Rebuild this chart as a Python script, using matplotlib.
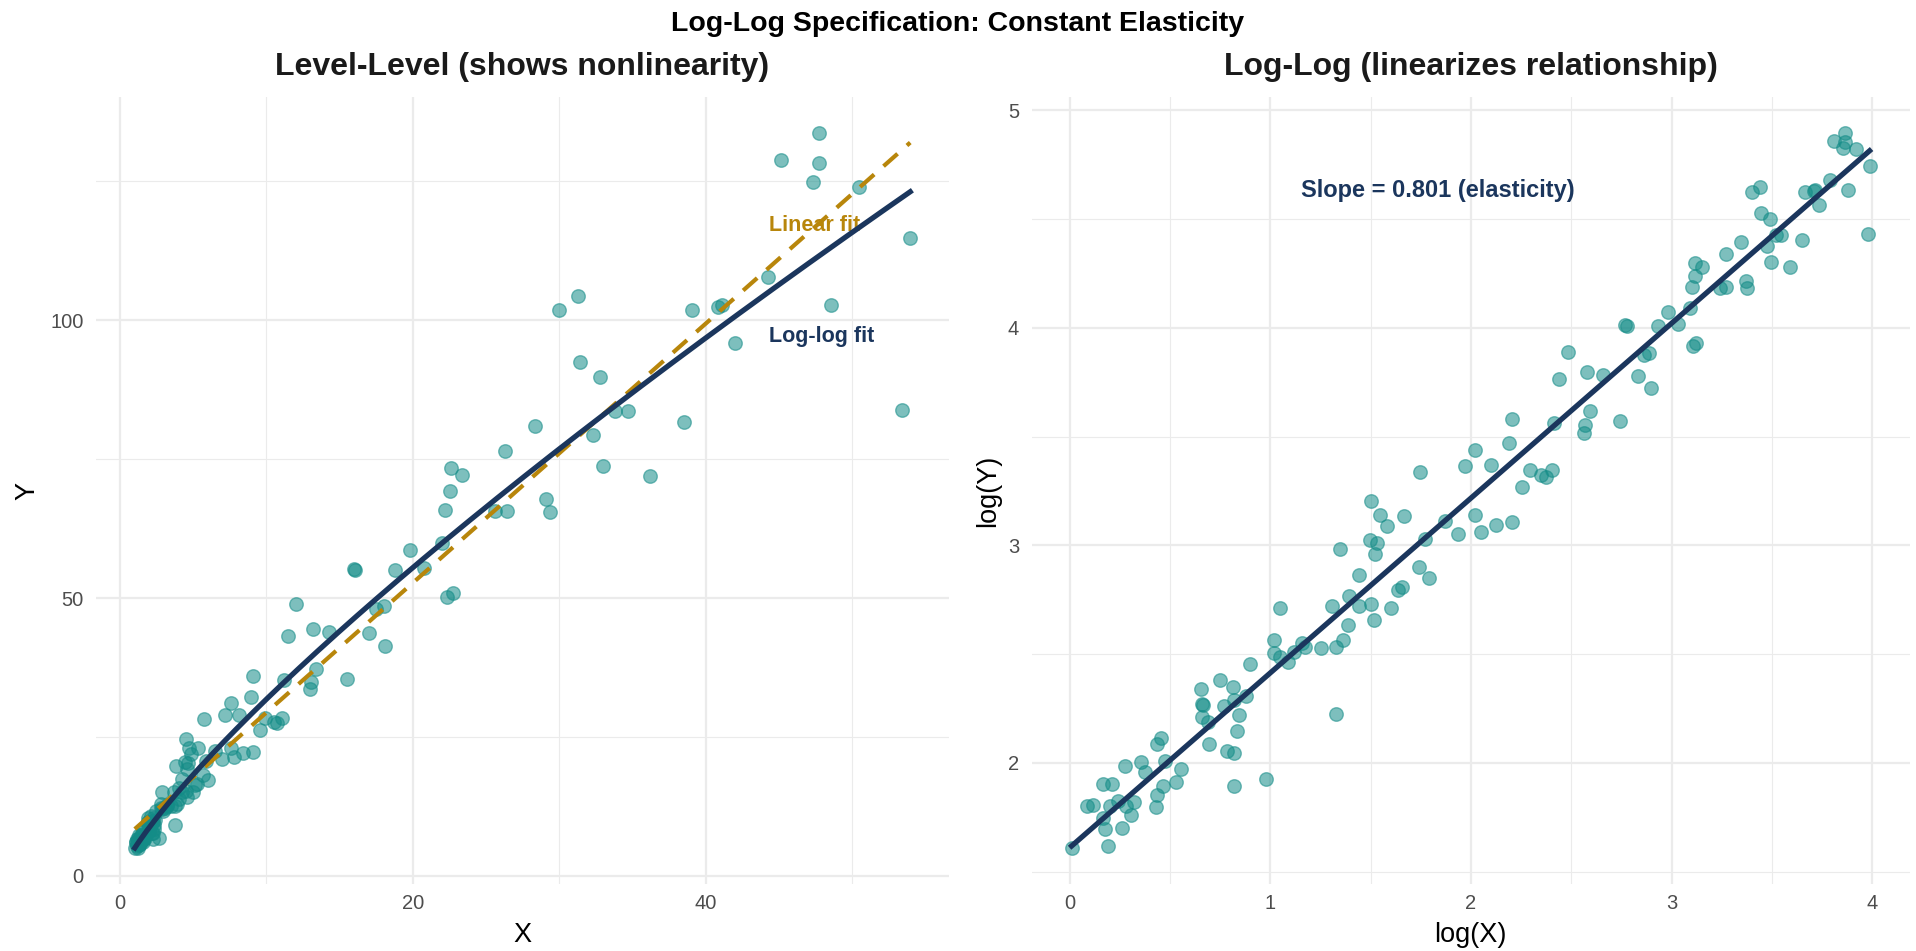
import numpy as np
import matplotlib
matplotlib.use('Agg')
import matplotlib.pyplot as plt
from matplotlib.ticker import MultipleLocator

plt.rcParams['font.family'] = ['Liberation Sans', 'DejaVu Sans']

# log(X), log(Y); the left panel is the same data in levels
log_x = [0.008, 0.19, 0.175, 0.26, 0.165, 0.305, 0.085, 0.116, 0.198, 0.239,
         0.28, 0.318, 0.431, 0.433, 0.462, 0.527, 0.167, 0.207, 0.275, 0.354,
         0.373, 0.472, 0.553, 0.432, 0.455, 0.692, 0.781, 0.816, 0.82, 0.976,
         0.833, 0.842, 0.766, 0.819, 0.88, 0.657, 0.665, 0.658, 0.687, 0.655,
         0.749, 0.812, 0.898, 1.329, 1.018, 1.018, 1.049, 1.088, 1.116, 1.155,
         1.17, 1.25, 1.326, 1.36, 1.046, 1.387, 1.309, 1.393, 1.443, 1.502,
         1.516, 1.6, 1.443, 1.348, 1.497, 1.533, 1.522, 1.502, 1.547, 1.583,
         1.667, 1.634, 1.656, 1.74, 1.793, 1.773, 1.871, 1.745, 1.936, 2.022,
         2.05, 2.126, 2.204, 1.969, 2.022, 2.098, 2.19, 2.204, 2.255, 2.294,
         2.35, 2.372, 2.406, 2.414, 2.562, 2.568, 2.593, 2.741, 2.439, 2.484,
         2.577, 2.657, 2.834, 2.896, 2.861, 2.89, 2.77, 2.776, 2.932, 3.032,
         2.985, 3.09, 3.107, 3.124, 3.1, 3.116, 3.118, 3.15, 3.242, 3.273,
         3.37, 3.379, 3.27, 3.345, 3.446, 3.49, 3.52, 3.547, 3.474, 3.496,
         3.589, 3.65, 3.4, 3.443, 3.664, 3.71, 3.716, 3.737, 3.79, 3.882,
         3.81, 3.866, 3.866, 3.857, 3.921, 3.988, 3.978]
log_y = [1.608, 1.62, 1.696, 1.702, 1.749, 1.76, 1.80, 1.805, 1.804, 1.827,
         1.804, 1.821, 1.797, 1.854, 1.892, 1.911, 1.903, 1.903, 1.988, 2.003,
         1.96, 2.008, 1.971, 2.087, 2.114, 2.087, 2.054, 2.044, 1.894, 1.927,
         2.145, 2.218, 2.262, 2.289, 2.309, 2.272, 2.266, 2.21, 2.188, 2.338,
         2.379, 2.349, 2.455, 2.226, 2.563, 2.505, 2.489, 2.466, 2.51, 2.552,
         2.532, 2.526, 2.535, 2.563, 2.714, 2.632, 2.719, 2.767, 2.719, 2.731,
         2.659, 2.713, 2.864, 2.985, 3.025, 3.011, 2.958, 3.206, 3.14, 3.087,
         3.134, 2.797, 2.81, 2.9, 2.848, 3.03, 3.111, 3.339, 3.051, 3.14,
         3.06, 3.094, 3.106, 3.364, 3.437, 3.368, 3.472, 3.581, 3.267, 3.347,
         3.325, 3.316, 3.348, 3.561, 3.515, 3.555, 3.618, 3.57, 3.764, 3.89,
         3.795, 3.783, 3.778, 3.721, 3.874, 3.882, 4.012, 4.01, 4.008, 4.015,
         4.073, 4.093, 3.916, 3.931, 4.187, 4.239, 4.297, 4.28, 4.184, 4.185,
         4.216, 4.181, 4.338, 4.394, 4.527, 4.498, 4.426, 4.426, 4.374, 4.3,
         4.277, 4.403, 4.623, 4.648, 4.623, 4.628, 4.632, 4.564, 4.681, 4.632,
         4.859, 4.896, 4.855, 4.827, 4.82, 4.744, 4.429]

slope_label = 'Slope = 0.801 (elasticity)'

PT_COLOR = '#138C87'
NAVY = '#1B365D'
GOLD = '#B8860B'
GRID = '#EBEBEB'

lx = np.array(log_x)
ly = np.array(log_y)
X = np.exp(lx)
Y = np.exp(ly)

b_log, a_log = np.polyfit(lx, ly, 1)
b_lin, a_lin = np.polyfit(X, Y, 1)

fig = plt.figure(figsize=(19.16, 9.51), dpi=100)
ax1 = fig.add_axes([96 / 1916, 67 / 951, 853 / 1916, 787 / 951])
ax2 = fig.add_axes([1031.7 / 1916, 67 / 951, 877.8 / 1916, 787 / 951])


def style(ax, xmaj, xmin, ymaj, ymin):
    ax.xaxis.set_major_locator(MultipleLocator(xmaj))
    ax.xaxis.set_minor_locator(MultipleLocator(xmin))
    ax.yaxis.set_major_locator(MultipleLocator(ymaj))
    ax.yaxis.set_minor_locator(MultipleLocator(ymin))
    ax.grid(which='major', color=GRID, lw=1.6, zorder=0)
    ax.grid(which='minor', color=GRID, lw=0.8, zorder=0)
    ax.set_axisbelow(True)
    for s in ax.spines.values():
        s.set_visible(False)
    ax.tick_params(which='both', length=0, labelsize=14.5, labelcolor='#4D4D4D')
    ax.tick_params(axis='y', pad=9)
    ax.tick_params(axis='x', pad=7)


def expand(v):
    lo, hi = min(v), max(v)
    d = (hi - lo) * 0.05
    return lo - d, hi + d


# level-level panel
xs = np.linspace(X.min(), X.max(), 200)
ax1.scatter(X, Y, s=95, color=PT_COLOR, alpha=0.55, linewidths=1, zorder=3)
ax1.plot(xs, a_lin + b_lin * xs, color=GOLD, lw=3, ls=(0, (4.5, 3)), zorder=4)
ax1.plot(xs, np.exp(a_log) * xs ** b_log, color=NAVY, lw=3.8, zorder=5)
ax1.text(44.3, 117, 'Linear fit', color=GOLD, fontsize=15.5, fontweight='bold',
         ha='left', va='center')
ax1.text(44.3, 97, 'Log-log fit', color=NAVY, fontsize=15.5, fontweight='bold',
         ha='left', va='center')
style(ax1, 20, 10, 50, 25)
ax1.set_xlim(expand(X))
ax1.set_ylim(expand(Y))
ax1.set_xlabel('X', fontsize=19.5, labelpad=7)
ax1.set_ylabel('Y', fontsize=19.5, labelpad=7)
ax1.text(0.5, 1 + 30 / 787, 'Level-Level (shows nonlinearity)', transform=ax1.transAxes,
         ha='center', va='center', fontsize=23, fontweight='bold', color='#1A1A1A')

# log-log panel
lxs = np.linspace(lx.min(), lx.max(), 50)
ax2.scatter(lx, ly, s=95, color=PT_COLOR, alpha=0.55, linewidths=1, zorder=3)
ax2.plot(lxs, a_log + b_log * lxs, color=NAVY, lw=3.8, zorder=5)
ax2.text(1.835, 4.63, slope_label, color=NAVY, fontsize=17, fontweight='bold',
         ha='center', va='center')
style(ax2, 1, 0.5, 1, 0.5)
ax2.set_xlim(expand(lx))
ax2.set_ylim(expand(ly))
ax2.set_xlabel('log(X)', fontsize=19.5, labelpad=7)
ax2.set_ylabel('log(Y)', fontsize=19.5, labelpad=5)
ax2.text(0.5, 1 + 30 / 787, 'Log-Log (linearizes relationship)', transform=ax2.transAxes,
         ha='center', va='center', fontsize=23, fontweight='bold', color='#1A1A1A')

fig.text(0.5, 1 - 24 / 951, 'Log-Log Specification: Constant Elasticity',
         ha='center', va='center', fontsize=20.5, fontweight='bold')

fig.savefig('out.png', dpi=100)
